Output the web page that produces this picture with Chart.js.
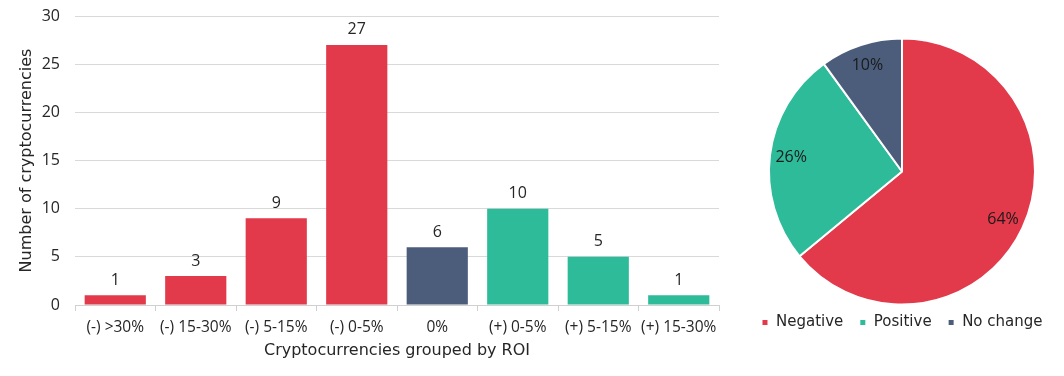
<!DOCTYPE html>
<html lang="en">
<head>
    <meta charset="UTF-8">
    <title>Cryptocurrencies grouped by ROI</title>
    <script src="https://cdn.jsdelivr.net/npm/chart.js"></script>
    <style>
        body {
            margin: 0;
            background: #ffffff;
            width: 1064px;
            height: 376px;
            position: relative;
            overflow: hidden;
        }

        .box {
            position: absolute;
            top: 0;
            height: 376px;
        }

        #barBox { left: 0; width: 730px; }
        #pieBox { left: 740px; width: 324px; }
    </style>
</head>
<body>
    <div class="box" id="barBox"><canvas id="roiChart"></canvas></div>
    <div class="box" id="pieBox"><canvas id="shareChart"></canvas></div>

    <script>
        // data
        const roiGroups = ['(-) >30%', '(-) 15-30%', '(-) 5-15%', '(-) 0-5%', '0%', '(+) 0-5%', '(+) 5-15%', '(+) 15-30%'];
        const coinCounts = [1, 3, 9, 27, 6, 10, 5, 1];
        const groupKind = ['neg', 'neg', 'neg', 'neg', 'flat', 'pos', 'pos', 'pos'];

        const shareLabels = ['Negative', 'Positive', 'No change'];
        const sharePercent = [64, 26, 10];

        const RED = '#e2394b';
        const GREEN = '#2dbb99';
        const SLATE = '#4b5d7b';
        const kindColor = { neg: RED, pos: GREEN, flat: SLATE };

        const NUM_FONT = "'Open Sans', sans-serif";
        const WORD_FONT = "'DejaVu Sans', sans-serif";
        const TEXT = '#262626';

        Chart.defaults.font.family = NUM_FONT;
        Chart.defaults.color = TEXT;

        // value labels above the bars
        const barValues = {
            id: 'barValues',
            afterDatasetsDraw(chart) {
                const ctx = chart.ctx;
                const meta = chart.getDatasetMeta(0);
                ctx.save();
                ctx.font = '16px ' + NUM_FONT;
                ctx.fillStyle = TEXT;
                ctx.textAlign = 'center';
                ctx.textBaseline = 'middle';
                meta.data.forEach((bar, i) => {
                    ctx.fillText(String(coinCounts[i]), bar.x, bar.y - 15);
                });
                ctx.restore();
            }
        };

        // percent labels inside the slices, near the rim
        const sliceValues = {
            id: 'sliceValues',
            afterDatasetsDraw(chart) {
                const ctx = chart.ctx;
                const meta = chart.getDatasetMeta(0);
                ctx.save();
                ctx.font = '16px ' + NUM_FONT;
                ctx.fillStyle = '#1a1a1a';
                ctx.textAlign = 'center';
                ctx.textBaseline = 'middle';
                meta.data.forEach((arc, i) => {
                    const mid = (arc.startAngle + arc.endAngle) / 2;
                    const r = arc.outerRadius * 0.84;
                    ctx.fillText(sharePercent[i] + '%', arc.x + Math.cos(mid) * r, arc.y + Math.sin(mid) * r);
                });
                ctx.restore();
            }
        };

        new Chart(document.getElementById('roiChart'), {
            type: 'bar',
            data: {
                labels: roiGroups,
                datasets: [{
                    data: coinCounts,
                    backgroundColor: groupKind.map(k => kindColor[k]),
                    barPercentage: 0.76,
                    categoryPercentage: 1
                }]
            },
            options: {
                responsive: true,
                maintainAspectRatio: false,
                animation: false,
                layout: { padding: { top: 16, right: 11, left: 0, bottom: 0 } },
                plugins: {
                    legend: { display: false },
                    tooltip: { enabled: false }
                },
                scales: {
                    x: {
                        grid: {
                            drawOnChartArea: false,
                            drawTicks: true,
                            tickLength: 6,
                            color: '#d0d0d0'
                        },
                        border: { color: '#d0d0d0' },
                        ticks: { font: { size: 15.5 }, padding: 7, maxRotation: 0, autoSkip: false },
                        title: {
                            display: true,
                            text: 'Cryptocurrencies grouped by ROI',
                            font: { family: WORD_FONT, size: 16 },
                            padding: { top: 2, bottom: 16 }
                        },
                        afterFit(scale) { scale.height = 71; }
                    },
                    y: {
                        min: 0,
                        max: 30,
                        ticks: { stepSize: 5, font: { size: 16 }, padding: 15 },
                        grid: { color: '#d9d9d9', drawTicks: false },
                        border: { display: false },
                        title: {
                            display: true,
                            text: 'Number of cryptocurrencies',
                            font: { family: WORD_FONT, size: 16 },
                            padding: { top: 17, bottom: 0 }
                        },
                        afterFit(scale) {
                            scale.width = 75;
                            scale.paddingTop = 0;
                            scale.paddingBottom = 0;
                        }
                    }
                }
            },
            plugins: [barValues]
        });

        new Chart(document.getElementById('shareChart'), {
            type: 'pie',
            data: {
                labels: shareLabels,
                datasets: [{
                    data: sharePercent,
                    backgroundColor: [RED, GREEN, SLATE],
                    borderColor: '#ffffff',
                    borderWidth: 2,
                    radius: 133
                }]
            },
            options: {
                responsive: true,
                maintainAspectRatio: false,
                animation: false,
                layout: { padding: { top: 44, bottom: 36 } },
                plugins: {
                    tooltip: { enabled: false },
                    legend: {
                        position: 'bottom',
                        labels: {
                            boxWidth: 7,
                            boxHeight: 7,
                            padding: 16,
                            font: { family: WORD_FONT, size: 15 },
                            color: TEXT
                        }
                    }
                }
            },
            plugins: [sliceValues]
        });
    </script>
</body>
</html>
